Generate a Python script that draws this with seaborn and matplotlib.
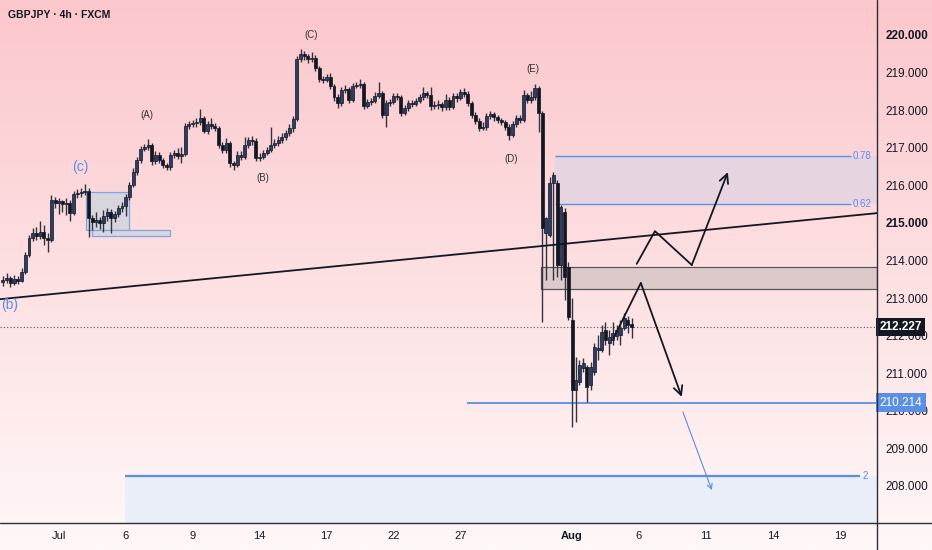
import numpy as np
import pandas as pd
import seaborn as sns
import matplotlib.pyplot as plt
from matplotlib.lines import Line2D
from matplotlib.patches import Rectangle
from matplotlib.colors import LinearSegmentedColormap

# GBPJPY 4h candles (bar index = position on the time axis)
opens = [213.42, 213.48, 213.53, 213.40, 213.51, 213.45, 213.69, 214.14, 214.60, 214.73,
         214.65, 214.76, 214.60, 214.54, 215.61, 215.53, 215.58, 215.50, 215.53, 215.26,
         215.77, 215.80, 215.82, 215.85, 215.13, 215.02, 215.08, 215.00, 215.18, 215.29,
         215.13, 215.24, 215.39, 215.45, 215.69, 216.01, 216.35, 216.67, 216.97, 217.02,
         217.07, 216.65, 216.81, 216.67, 216.54, 216.49, 216.81, 216.86, 216.78, 216.83,
         217.58, 217.63, 217.66, 217.68, 217.79, 217.44, 217.63, 217.58, 217.52, 217.07,
         216.94, 217.12, 216.59, 216.54, 216.81, 216.75, 217.07, 217.20, 217.18, 216.73,
         216.75, 216.86, 216.94, 217.07, 217.12, 217.20, 217.28, 217.39, 217.52, 217.76,
         219.36, 219.49, 219.44, 219.36, 219.39, 219.12, 218.83, 218.80, 218.88, 218.64,
         218.35, 218.19, 218.54, 218.56, 218.27, 218.64, 218.67, 218.70, 218.11, 218.22,
         218.24, 218.38, 218.46, 217.87, 218.19, 218.22, 218.38, 218.35, 217.92, 218.06,
         218.19, 218.16, 218.24, 218.35, 218.46, 218.40, 218.11, 218.14, 218.16, 218.08,
         218.27, 218.08, 218.38, 218.32, 218.48, 218.43, 218.19, 217.87, 217.71, 217.52,
         217.55, 217.84, 217.90, 217.82, 217.74, 217.68, 217.55, 217.34, 217.63, 217.79,
         217.74, 218.40, 218.27, 218.35, 218.59, 217.92,
         214.73, 214.68, 216.06, 216.06, 213.88, 215.29, 213.83, 212.41, 210.55, 210.77,
         211.14, 211.17, 210.69, 211.03, 211.62, 211.62, 212.15, 211.80, 211.88, 211.99,
         212.02, 212.20, 212.41, 212.31]
highs = [213.58, 213.66, 213.60, 213.62, 213.58, 213.80, 214.22, 214.68, 214.86, 214.90,
         215.05, 214.95, 214.72, 215.74, 215.70, 215.66, 215.62, 215.65, 215.60, 215.85,
         215.90, 215.92, 216.04, 215.92, 215.20, 215.30, 215.15, 215.35, 215.40, 215.38,
         215.32, 215.48, 215.55, 215.78, 216.08, 216.45, 216.75, 217.05, 217.10, 217.23,
         217.12, 216.90, 216.88, 216.72, 216.60, 216.88, 216.95, 216.98, 217.02, 217.66,
         217.72, 217.74, 217.78, 218.03, 217.85, 217.72, 217.80, 217.66, 217.58, 217.15,
         217.25, 217.18, 216.66, 216.90, 216.92, 217.28, 217.28, 217.30, 217.25, 216.85,
         216.94, 217.02, 217.55, 217.22, 217.30, 217.38, 217.48, 217.62, 217.85, 219.44,
         219.63, 219.58, 219.50, 219.55, 219.48, 219.18, 218.92, 218.95, 218.98, 218.70,
         218.42, 218.62, 218.66, 218.62, 218.72, 218.76, 218.82, 218.76, 218.30, 218.32,
         218.48, 218.75, 218.52, 218.26, 218.30, 218.46, 218.45, 218.40, 218.14, 218.26,
         218.28, 218.32, 218.44, 218.61, 218.52, 218.61, 218.24, 218.26, 218.22, 218.42,
         218.34, 218.45, 218.46, 218.56, 218.58, 218.50, 218.25, 217.95, 217.78, 217.68,
         217.92, 217.98, 217.96, 217.88, 217.80, 217.74, 217.62, 217.70, 217.86, 217.88,
         218.54, 218.46, 218.50, 218.70, 218.64, 217.98,
         215.16, 216.22, 216.35, 216.14, 215.48, 215.39, 213.96, 213.00, 211.43, 211.35,
         211.40, 211.22, 211.30, 211.80, 212.02, 212.28, 212.36, 212.15, 212.36, 212.28,
         212.41, 212.60, 212.52, 212.47]
lows = [213.33, 213.40, 213.30, 213.36, 213.38, 213.42, 213.64, 214.08, 214.52, 214.55,
        214.58, 214.41, 214.22, 214.50, 215.40, 215.25, 215.30, 215.20, 215.05, 215.20,
        215.65, 215.70, 215.75, 214.62, 214.80, 214.90, 214.85, 214.76, 215.05, 214.73,
        215.02, 215.15, 215.30, 215.18, 215.62, 215.95, 216.28, 216.60, 216.90, 216.95,
        216.55, 216.58, 216.60, 216.45, 216.40, 216.42, 216.72, 216.70, 216.60, 216.78,
        217.50, 217.55, 217.56, 217.60, 217.38, 217.36, 217.50, 217.45, 216.98, 216.86,
        216.85, 216.49, 216.41, 216.50, 216.68, 216.70, 217.00, 217.08, 216.66, 216.64,
        216.70, 216.80, 216.88, 216.98, 217.05, 217.12, 217.20, 217.30, 217.42, 217.70,
        219.28, 219.34, 219.25, 219.28, 219.05, 218.75, 218.72, 218.74, 218.56, 218.25,
        218.05, 218.12, 218.45, 218.20, 218.22, 218.58, 218.60, 218.02, 218.05, 218.15,
        218.18, 218.32, 217.80, 217.55, 218.12, 218.16, 218.28, 217.85, 217.86, 217.98,
        218.08, 218.10, 218.18, 218.28, 218.32, 218.00, 218.04, 218.02, 217.98, 218.00,
        218.00, 218.02, 218.22, 218.26, 218.36, 218.10, 217.80, 217.62, 217.45, 217.46,
        217.48, 217.76, 217.72, 217.65, 217.60, 217.46, 217.20, 217.28, 217.55, 217.66,
        217.68, 218.18, 218.20, 218.28, 217.42, 212.36,
        213.48, 214.62, 213.48, 213.56, 213.48, 212.95, 212.41, 209.57, 209.70, 210.69,
        211.03, 210.23, 210.55, 210.95, 211.35, 211.56, 211.75, 211.48, 211.75, 211.88,
        211.75, 212.15, 212.07, 211.93]
closes = [213.48, 213.53, 213.40, 213.51, 213.45, 213.69, 214.14, 214.60, 214.73, 214.65,
          214.76, 214.60, 214.54, 215.61, 215.53, 215.58, 215.50, 215.53, 215.26, 215.77,
          215.80, 215.82, 215.85, 215.13, 215.02, 215.08, 215.00, 215.18, 215.29, 215.13,
          215.24, 215.39, 215.45, 215.69, 216.01, 216.35, 216.67, 216.97, 217.02, 217.07,
          216.65, 216.81, 216.67, 216.54, 216.49, 216.81, 216.86, 216.78, 216.83, 217.58,
          217.63, 217.66, 217.68, 217.79, 217.44, 217.63, 217.58, 217.52, 217.07, 216.94,
          217.12, 216.59, 216.54, 216.81, 216.75, 217.07, 217.20, 217.18, 216.73, 216.75,
          216.86, 216.94, 217.07, 217.12, 217.20, 217.28, 217.39, 217.52, 217.76, 219.36,
          219.49, 219.44, 219.36, 219.39, 219.12, 218.83, 218.80, 218.88, 218.64, 218.35,
          218.19, 218.54, 218.56, 218.27, 218.64, 218.67, 218.70, 218.11, 218.22, 218.24,
          218.38, 218.46, 217.87, 218.19, 218.22, 218.38, 218.35, 217.92, 218.06, 218.19,
          218.16, 218.24, 218.35, 218.46, 218.40, 218.11, 218.14, 218.16, 218.08, 218.27,
          218.08, 218.38, 218.32, 218.48, 218.43, 218.19, 217.87, 217.71, 217.52, 217.55,
          217.84, 217.90, 217.82, 217.74, 217.68, 217.55, 217.34, 217.63, 217.79, 217.74,
          218.40, 218.27, 218.35, 218.59, 217.92, 214.86,
          215.13, 216.06, 216.27, 213.88, 215.42, 213.56, 212.49, 210.55, 210.82, 211.22,
          211.27, 210.63, 211.17, 211.70, 211.67, 212.10, 211.88, 211.96, 212.07, 212.15,
          212.20, 212.47, 212.28, 212.23]

# time axis labels (bar positions)
tick_pos = [15, 33, 51, 69, 87, 105, 123, 153, 171, 189, 207, 225]
tick_lab = ['Jul', '6', '9', '14', '17', '22', '27', 'Aug', '6', '11', '14', '19']
price_ticks = [208, 209, 210, 211, 212, 213, 214, 215, 216, 217, 218, 219, 220]

# drawn levels
last_price = 212.227
support = 210.214
fib_078 = 216.78
fib_062 = 215.50
fib_2 = 208.26
zone = (213.24, 213.83)
c_box = (22.3, 33.9, 214.81, 215.82)
c_ledge = (23.9, 44.9, 214.65, 214.81)
trend_bar = [-0.8, 235]
trend_px = [212.97, 215.26]

# projection paths
up_bar = [170.4, 175.3, 185.2, 194.9]
up_px = [213.91, 214.78, 213.88, 216.35]
dn_bar = [164.2, 171.5, 182.5]
dn_px = [211.94, 213.40, 210.37]
blue_arrow_bar = [182.8, 190.6]
blue_arrow_px = [209.97, 207.89]

waves = [('(A)', 38.7, 217.87, '#333333', 7),
         ('(B)', 69.9, 216.19, '#333333', 7),
         ('(C)', 82.8, 220.00, '#333333', 7),
         ('(D)', 136.6, 216.70, '#333333', 7),
         ('(E)', 142.5, 219.10, '#333333', 7),
         ('(c)', 20.7, 216.49, '#5b8ee6', 10),
         ('(b)', 1.9, 212.81, '#5b8ee6', 10)]

df = pd.DataFrame({'o': opens, 'h': highs, 'l': lows, 'c': closes})
df['bar'] = np.arange(len(df))
df['up'] = df['c'] >= df['o']
df['bottom'] = df[['o', 'c']].min(axis=1)
df['body'] = (df['c'] - df['o']).abs().clip(lower=0.03)

sns.set_theme(style='white')
plt.rcParams['font.family'] = ['Liberation Sans', 'DejaVu Sans']

fig = plt.figure(figsize=(9.32, 5.5), dpi=100)
bg = fig.add_axes([0, 0, 1, 1], zorder=-10)
cmap = LinearSegmentedColormap.from_list('bg', ['#fbc7cc', '#fde0e2', '#fff8f8'])
bg.imshow(np.linspace(0, 1, 256).reshape(-1, 1), aspect='auto', cmap=cmap,
          extent=[0, 1, 0, 1], origin='upper')
bg.axis('off')

ax = fig.add_axes([0, 27 / 550, 877 / 932, 523 / 550])
ax.patch.set_alpha(0)
blue = '#5b8ee6'

# zones
ax.fill_between([148.4, 235], fib_062, fib_078, color='#e6d4e0', lw=0, zorder=1)
ax.hlines([fib_078, fib_062], 148.4, 228.0, color=blue, lw=1, zorder=2)
ax.text(228.5, fib_078, '0.78', color=blue, fontsize=7, va='center', ha='left')
ax.text(228.5, fib_062, '0.62', color=blue, fontsize=7, va='center', ha='left')

ax.fill_between([32.8, 235], 207.0, fib_2, color='#eaeef9', lw=0, zorder=1)
ax.hlines(fib_2, 32.8, 230.5, color=blue, lw=1.6, zorder=2)
ax.text(231.2, fib_2, '2', color=blue, fontsize=7, va='center', ha='left')

ax.add_patch(Rectangle((144.6, zone[0]), 235 - 144.6, zone[1] - zone[0],
                       facecolor='#dccacb', edgecolor='#555555', lw=0.9, zorder=1))
ax.add_patch(Rectangle((c_box[0], c_box[2]), c_box[1] - c_box[0], c_box[3] - c_box[2],
                       facecolor='#d8d5dd', edgecolor='#7aa5e8', lw=0.9, zorder=1))
ax.add_patch(Rectangle((c_ledge[0], c_ledge[2]), c_ledge[1] - c_ledge[0], c_ledge[3] - c_ledge[2],
                       facecolor='#dcd6dc', edgecolor='#7aa5e8', lw=0.9, zorder=1))

ax.hlines(support, 124.7, 235, color=blue, lw=1.3, zorder=2)
ax.axhline(last_price, color='#555555', lw=0.8, ls=(0, (1, 2)), zorder=2)
ax.plot(trend_bar, trend_px, color='#131722', lw=1.3, zorder=5)

# candles
ax.vlines(df['bar'], df['l'], df['h'], color='#30343f', lw=1.0, zorder=3)
upc = df[df['up']]
dnc = df[~df['up']]
ax.bar(upc['bar'], upc['body'], bottom=upc['bottom'], width=0.8,
       color='#2f3d66', edgecolor='#131722', lw=0.5, zorder=4)
ax.bar(dnc['bar'], dnc['body'], bottom=dnc['bottom'], width=0.8,
       color='#131722', edgecolor='#131722', lw=0.5, zorder=4)

# projections
ax.plot(up_bar[:-1], up_px[:-1], color='#131722', lw=1.3, zorder=6)
ax.annotate('', xy=(up_bar[-1], up_px[-1]), xytext=(up_bar[-2], up_px[-2]),
            arrowprops=dict(arrowstyle='->', color='#131722', lw=1.3, mutation_scale=16,
                            shrinkA=0, shrinkB=0), zorder=6)
ax.plot(dn_bar[:-1], dn_px[:-1], color='#131722', lw=1.3, zorder=6)
ax.annotate('', xy=(dn_bar[-1], dn_px[-1]), xytext=(dn_bar[-2], dn_px[-2]),
            arrowprops=dict(arrowstyle='->', color='#131722', lw=1.3, mutation_scale=16,
                            shrinkA=0, shrinkB=0), zorder=6)
ax.annotate('', xy=(blue_arrow_bar[1], blue_arrow_px[1]), xytext=(blue_arrow_bar[0], blue_arrow_px[0]),
            arrowprops=dict(arrowstyle='->', color=blue, lw=0.8, mutation_scale=9,
                            shrinkA=0, shrinkB=0), zorder=6)

for txt, xb, yp, col, fs in waves:
    ax.text(xb, yp, txt, color=col, fontsize=fs, ha='center', va='center', zorder=7)

ax.set_xlim(-0.8, 235)
ax.set_ylim(207.015, 220.931)

ax.set_xticks(tick_pos)
ax.set_xticklabels(tick_lab)
ax.yaxis.tick_right()
ax.set_yticks(price_ticks)
ax.set_yticklabels([f'{v:.3f}' for v in price_ticks])
ax.tick_params(axis='both', length=0, labelsize=8, colors='#131722')
ax.tick_params(axis='y', pad=6, labelsize=8.5)
ax.tick_params(axis='x', pad=6)
for t in ax.get_yticklabels():
    if t.get_text() in ('215.000', '220.000'):
        t.set_fontweight('bold')
for t in ax.get_xticklabels():
    if t.get_text() == 'Aug':
        t.set_fontweight('bold')
for s in ax.spines.values():
    s.set_visible(False)

# price tags on the scale
ytr = ax.get_yaxis_transform()
ax.text(1.003, last_price, '212.227', transform=ytr, color='white', fontsize=8.5, fontweight='bold',
        va='center', ha='left', zorder=10, clip_on=False,
        bbox=dict(boxstyle='square,pad=0.28', fc='#131722', ec='none'))
ax.text(1.003, support, '210.214', transform=ytr, color='white', fontsize=8.5,
        va='center', ha='left', zorder=10, clip_on=False,
        bbox=dict(boxstyle='square,pad=0.28', fc=blue, ec='none'))

fig.add_artist(Line2D([0, 1], [27 / 550, 27 / 550], color='#2a2e39', lw=1))
fig.add_artist(Line2D([877 / 932, 877 / 932], [0, 1], color='#2a2e39', lw=1))
fig.text(8 / 932, 1 - 15 / 550, 'GBPJPY · 4h · FXCM', fontsize=7.5, fontweight='bold',
         color='#131722', va='center', ha='left')

fig.savefig('out.png', dpi=100)
